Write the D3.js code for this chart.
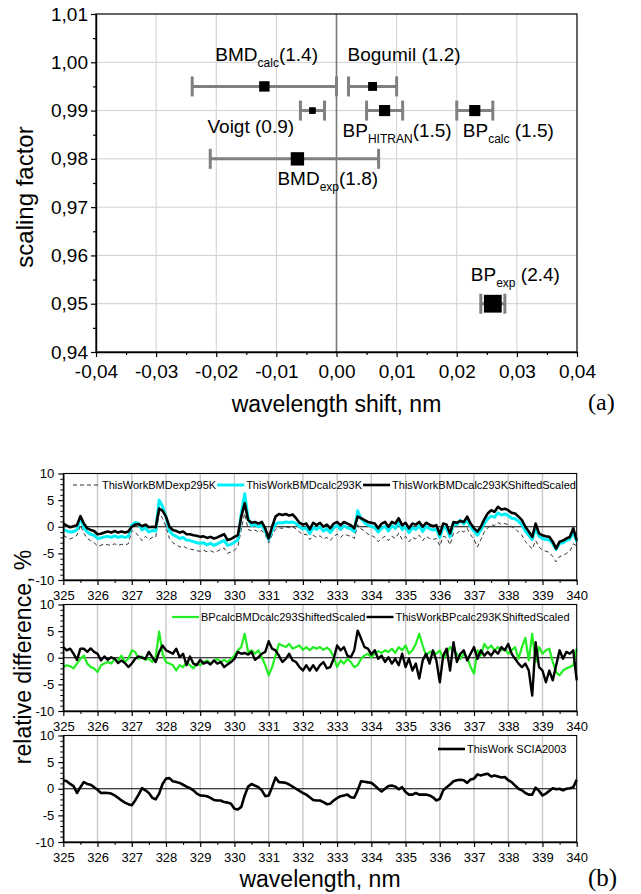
<!DOCTYPE html>
<html><head><meta charset="utf-8">
<script src="https://cdn.jsdelivr.net/npm/d3@7"></script>
<style>body{margin:0;background:#fff}svg{display:block}text{font-family:"Liberation Sans",Arial,sans-serif;fill:#000}</style>
</head><body><svg id="c" width="641" height="894"></svg>
<script>
// ---------- Panel (a) data ----------
const methodBase = ["BMD","Bogumil","Voigt","BP","BP","BMD","BP"];
const methodSub  = ["calc","","","HITRAN","calc","exp","exp"];
const shiftNm    = [-0.012, 0.006, -0.004, 0.008, 0.023, -0.0065, 0.026];
const scaleFac   = [0.995, 0.995, 0.990, 0.990, 0.990, 0.980, 0.950];
const shiftLo    = [-0.024, 0.002, -0.006, 0.005, 0.020, -0.021, 0.024];
const shiftHi    = [0.000, 0.010, -0.002, 0.011, 0.026, 0.007, 0.028];
const chiValue   = [1.4, 1.2, 0.9, 1.5, 1.5, 1.8, 2.4];
const shiftTicks = [-0.04,-0.03,-0.02,-0.01,0,0.01,0.02,0.03,0.04];
const shiftTickLabels = ["-0,04","-0,03","-0,02","-0,01","0,00","0,01","0,02","0,03","0,04"];
const scaleTicks = [0.94,0.95,0.96,0.97,0.98,0.99,1.00,1.01];
const scaleTickLabels = ["0,94","0,95","0,96","0,97","0,98","0,99","1,00","1,01"];

// ---------- Panel (b) data (wavelength 325..340 nm, step 0.1 nm) ----------
const waveStart = 325, waveStep = 0.1;
const waveTicks = [325,326,327,328,329,330,331,332,333,334,335,336,337,338,339,340];
const relTicks = [-10,-5,0,5,10];
const relTickLabels = ["-10","-5","0","5","10"];

const bmdExp295K = [-1.6,-2.0,-2.3,-2.0,-1.6,0.3,-1.2,-2.2,-2.6,-3.0,
-3.6,-3.5,-3.2,-3.4,-3.5,-3.2,-3.5,-3.3,-3.4,-3.2,
-0.7,-1.0,-1.8,-2.6,-1.8,-2.4,-2.0,-2.0,2.6,1.6,
0.0,-2.2,-3.0,-3.4,-3.8,-3.6,-4.0,-4.2,-4.3,-4.5,
-4.6,-4.4,-4.7,-4.5,-4.8,-4.6,-4.2,-4.0,-5.0,-4.7,
-4.4,-3.8,-0.5,2.5,-0.5,-0.8,-0.6,-1.0,-0.7,-1.5,
-3.0,-1.6,-0.5,-0.2,-0.3,0.0,-0.2,0.0,-0.4,-1.0,
-1.5,-1.4,-2.4,-1.6,-2.0,-1.7,-2.3,-2.0,-2.6,-1.8,
-1.4,-2.0,-1.4,-1.6,-1.8,-2.2,0.4,-0.4,-0.8,-1.4,
-1.6,-2.0,-2.8,-2.2,-1.8,-2.6,-1.8,-2.2,-1.2,-2.4,
-1.8,-2.8,-2.0,-2.3,-1.6,-2.6,-1.8,-2.2,-2.4,-2.2,
-3.6,-1.8,-2.0,-3.4,-1.2,-1.3,-0.6,-1.0,-0.3,-1.5,
-2.4,-3.8,-2.4,-1.0,-0.2,0.4,0.2,0.8,0.4,0.6,
0.4,0.0,-0.3,-1.0,-1.6,-2.8,-3.4,-4.2,-2.6,-3.8,
-4.4,-4.6,-4.8,-5.6,-6.6,-5.6,-5.4,-5.0,-4.6,-3.2,
-3.6];
const bmdCalc293K = [-0.5,-0.8,-1.0,-0.9,-0.6,1.8,-0.2,-1.0,-1.4,-1.6,
-2.2,-2.1,-1.9,-1.8,-2.0,-1.7,-2.0,-1.8,-2.0,-1.8,
0.3,0.8,0.6,-0.6,-0.2,-1.0,-0.7,-0.8,5.0,3.8,
1.9,-0.8,-1.5,-1.8,-2.2,-2.0,-2.5,-2.6,-2.8,-3.0,
-3.1,-3.0,-3.4,-3.1,-3.5,-3.2,-2.9,-2.6,-3.5,-3.3,
-2.9,-2.5,2.5,6.2,1.5,0.2,0.4,0.0,0.3,-0.8,
-2.4,-0.7,0.5,0.8,0.7,0.9,0.8,0.9,0.6,0.0,
-0.4,-0.2,-1.3,-0.1,-0.5,0.0,-0.8,-0.4,-1.1,-0.2,
0.2,-0.5,0.2,-0.2,-0.4,-0.9,3.0,1.5,0.8,0.3,
0.1,-0.2,-1.0,-0.3,0.1,-0.8,0.2,-0.3,0.9,-0.5,
0.0,-1.1,-0.2,-0.5,0.2,-0.9,0.1,-0.4,-0.6,-0.4,
-2.0,0.0,-0.3,-1.9,0.5,0.4,1.2,0.5,1.2,0.0,
-0.8,-1.6,-0.6,0.6,1.5,2.0,1.8,2.6,2.2,2.4,
2.1,1.6,1.5,1.0,0.4,-0.8,-1.6,-2.4,-0.3,-1.8,
-2.2,-2.4,-2.5,-3.2,-4.3,-3.1,-3.0,-2.6,-2.3,-1.0,
-2.8];
const bmdCalc293KShiftedScaled = [0.6,0.2,-0.1,0.1,0.3,2.0,0.6,-0.3,-0.6,-0.8,
-1.4,-1.3,-1.1,-0.9,-1.1,-0.8,-1.1,-0.9,-1.1,-0.9,
0.0,0.4,0.5,0.1,0.4,-0.1,0.0,-0.1,3.4,3.0,
1.9,0.0,-0.6,-0.8,-1.1,-0.9,-1.4,-1.4,-1.6,-1.7,
-1.9,-1.8,-2.1,-1.9,-2.2,-2.0,-1.7,-1.4,-2.5,-2.3,
-1.9,-1.6,1.9,4.4,1.25,0.75,0.9,0.6,0.9,-0.3,
-2.2,0.0,1.9,2.4,2.2,2.4,2.1,2.3,1.6,0.75,
0.4,0.6,-0.5,0.75,0.3,0.75,0.0,0.4,-0.3,0.6,
0.9,0.3,0.9,0.6,0.3,-0.3,1.9,1.6,1.25,0.9,
0.75,0.6,-0.3,0.6,0.9,0.0,0.9,0.6,1.6,0.3,
0.75,-0.3,0.6,0.4,0.9,0.0,0.75,0.4,0.1,0.3,
-1.4,0.6,0.4,-1.25,0.9,0.75,1.1,0.9,1.9,0.6,
-0.3,-0.9,0.0,1.4,2.5,3.1,2.8,3.75,3.25,3.4,
3.1,2.6,2.5,1.9,1.25,0.0,-0.9,-1.9,0.6,-1.25,
-1.6,-1.8,-1.9,-2.8,-4.1,-2.8,-2.6,-2.2,-1.9,-0.3,
-2.5];
const bpCalcBmdCalc293SS = [-1.75,-1.4,-1.6,-2.0,-1.1,-0.2,0.4,-1.1,-1.75,-2.0,
-2.7,-1.4,-1.1,-0.8,-1.1,-0.2,-0.5,0.4,-0.8,-0.2,
1.4,1.1,-0.2,0.25,-0.4,-0.2,-0.8,0.1,4.9,0.75,
-0.8,-1.1,-1.4,-2.4,-1.4,-1.75,-0.8,-1.4,-2.0,-1.1,
-1.4,-0.8,-0.5,-1.1,-0.6,-0.2,-0.8,-0.4,-0.8,-0.2,
0.4,1.4,2.0,4.5,1.1,1.4,0.75,1.4,0.1,-1.4,
-3.3,-1.75,0.4,2.6,2.3,2.0,2.6,1.7,2.0,2.3,
1.5,2.0,1.4,2.0,1.7,2.0,1.5,1.9,1.4,0.1,
-1.75,-0.5,-1.1,-0.2,-0.8,-1.75,-1.4,-0.2,0.4,0.75,
0.1,0.75,1.25,0.9,1.4,1.1,1.7,0.9,2.0,1.4,
2.3,0.75,1.4,2.6,4.5,2.3,0.4,1.1,1.1,0.75,
1.4,-0.2,0.75,2.0,1.4,0.75,-0.2,0.75,0.1,-1.75,
-3.0,1.4,0.4,2.6,1.7,2.3,1.4,2.0,1.4,1.7,
0.75,1.4,2.0,-0.2,2.0,3.75,-0.5,4.5,-0.8,2.0,
0.75,1.4,1.7,-0.8,-2.7,-3.3,-2.4,-2.0,-1.75,-1.4,
1.7];
const bpCalc293KShiftedScaled = [2.0,1.4,1.7,0.75,-0.4,1.7,1.7,1.1,1.75,1.1,
0.75,-0.5,0.25,-0.4,0.1,-0.2,-1.0,-0.5,-1.0,-1.75,
-1.1,-0.2,0.25,0.0,-0.2,1.1,0.1,-0.8,1.1,2.3,
1.4,1.1,0.75,1.7,0.1,0.75,-1.4,0.25,-1.1,-1.4,
-0.4,-1.1,-0.8,-1.25,-0.5,-1.1,-0.8,-1.75,-1.25,-0.8,
-0.2,1.1,0.75,0.9,0.6,1.1,-0.4,0.1,0.75,1.1,
3.1,1.7,1.4,0.4,-0.8,-0.2,0.75,-0.5,-0.8,-1.75,
-2.4,-1.4,-2.4,-1.4,-2.4,-1.4,-0.8,-2.0,-1.75,-0.2,
2.3,1.4,2.0,0.4,0.1,1.4,5.1,3.6,2.0,1.7,
0.6,1.4,-0.2,0.4,-0.8,0.1,-1.1,-0.2,-1.4,0.75,
-1.75,-0.2,-2.4,-1.1,-3.9,-0.5,0.75,-1.1,1.4,-0.5,
-4.6,0.4,1.7,-2.4,2.9,-0.8,0.75,1.4,-0.5,0.75,
2.0,-0.2,1.4,0.4,1.1,0.4,1.4,0.75,2.0,1.4,
2.6,0.75,-0.2,-1.1,-1.75,-1.1,-2.4,-7.1,2.9,-1.75,
-2.4,-4.6,-2.4,-4.25,-1.4,1.4,-0.2,1.1,0.75,1.4,
-4.25];
const sciaThisWork2003 = [1.6,1.4,0.9,0.5,-0.8,0.3,1.25,0.9,0.75,0.3,
-0.2,-0.8,-0.75,-0.8,-0.9,-1.25,-1.7,-2.2,-2.6,-2.9,
-3.1,-2.2,-1.1,0.1,-0.3,-0.8,-1.7,-2.0,-0.9,0.9,
1.9,2.0,1.4,1.25,1.1,0.75,0.4,0.1,-0.3,-0.9,
-1.25,-1.3,-1.4,-1.7,-2.1,-2.2,-2.2,-2.5,-2.6,-2.8,
-3.75,-3.9,-3.4,-1.25,0.4,0.9,0.6,0.3,-0.3,-1.4,
-1.25,0.3,2.1,1.25,1.2,1.1,0.8,0.4,0.0,-0.4,
-0.8,-1.1,-1.6,-2.1,-2.2,-2.2,-2.5,-2.9,-2.8,-2.2,
-1.75,-1.4,-1.25,-1.1,-1.6,-1.7,-0.3,1.4,1.3,1.2,
1.1,0.6,0.0,-0.5,0.0,0.5,0.6,0.4,-0.1,0.3,
-0.6,-1.1,-1.1,-0.8,-1.1,-1.1,-1.1,-1.25,-1.6,-2.2,
-1.9,-0.3,0.3,0.8,1.4,1.6,1.7,1.6,1.1,1.75,
1.9,2.7,2.5,2.7,2.8,2.3,2.5,2.3,2.1,2.2,
1.6,1.25,0.6,0.0,-0.3,-0.8,-1.1,-1.1,0.2,-0.4,
-1.25,-0.9,-0.4,0.1,-0.1,0.0,-0.3,0.0,0.1,0.3,
1.7];

// ---------- drawing ----------
const svg = d3.select("#c");
const FONT = '"Liberation Sans",Arial,sans-serif';

function styleAxis(g, size){
  g.attr("font-family", null).attr("font-size", null);
  g.selectAll("text").style("font-family", FONT).style("font-size", size + "px").attr("fill", "#000");
  g.selectAll("line").attr("stroke", "#000").attr("stroke-width", 1.2);
  g.select(".domain").attr("stroke", "#000").attr("stroke-width", 1.4);
}

// ===== Panel (a) =====
const xA = d3.scaleLinear().domain([-0.04, 0.04]).range([96, 577]);
const yA = d3.scaleLinear().domain([0.94, 1.01]).range([352, 14]);
const sizeA = d3.scaleLinear().domain([0, 2.4]).range([0, 17.8]);
const gA = svg.append("g");

gA.selectAll("line.gx").data(shiftTicks.filter(d => d !== 0 && d > -0.04 && d < 0.04)).join("line")
  .attr("x1", d => xA(d)).attr("x2", d => xA(d)).attr("y1", yA(1.01)).attr("y2", yA(0.94))
  .attr("stroke", "#cfcfcf").attr("stroke-width", 1);
gA.selectAll("line.gy").data(scaleTicks.filter(d => d > 0.94 && d < 1.01)).join("line")
  .attr("y1", d => yA(d)).attr("y2", d => yA(d)).attr("x1", xA(-0.04)).attr("x2", xA(0.04))
  .attr("stroke", "#cfcfcf").attr("stroke-width", 1);
gA.append("line").attr("x1", xA(0)).attr("x2", xA(0)).attr("y1", yA(1.01)).attr("y2", yA(0.94))
  .attr("stroke", "#7a7a7a").attr("stroke-width", 1.6);
gA.append("rect").attr("x", xA(-0.04)).attr("y", yA(1.01))
  .attr("width", xA(0.04) - xA(-0.04)).attr("height", yA(0.94) - yA(1.01))
  .attr("fill", "none").attr("stroke", "#000").attr("stroke-width", 1.2);

// axes
gA.append("g").attr("transform", `translate(${xA(-0.04)},0)`)
  .call(d3.axisLeft(yA).tickValues(scaleTicks).tickFormat((d, i) => scaleTickLabels[i]).tickSize(5).tickSizeOuter(0).tickPadding(3))
  .call(g => styleAxis(g, 19));
gA.append("g").attr("transform", `translate(${xA(-0.04)},0)`)
  .call(d3.axisLeft(yA).tickValues(scaleTicks.slice(0, -1).map(d => d + 0.005)).tickFormat("").tickSize(3).tickSizeOuter(0))
  .call(g => { g.select(".domain").remove(); g.selectAll("line").attr("stroke", "#000").attr("stroke-width", 1.2); });
gA.append("g").attr("transform", `translate(0,${yA(0.94)})`)
  .call(d3.axisBottom(xA).tickValues(shiftTicks).tickFormat((d, i) => shiftTickLabels[i]).tickSize(5).tickSizeOuter(0).tickPadding(8))
  .call(g => styleAxis(g, 19));
gA.append("g").attr("transform", `translate(0,${yA(0.94)})`)
  .call(d3.axisBottom(xA).tickValues(shiftTicks.slice(0, -1).map(d => d + 0.005)).tickFormat("").tickSize(3).tickSizeOuter(0))
  .call(g => { g.select(".domain").remove(); g.selectAll("line").attr("stroke", "#000").attr("stroke-width", 1.2); });

// error bars + markers
const idx = d3.range(methodBase.length);
const eb = gA.append("g").attr("stroke", "#808080").attr("stroke-width", 3);
eb.selectAll("line.h").data(idx).join("line")
  .attr("x1", i => xA(shiftLo[i])).attr("x2", i => xA(shiftHi[i]))
  .attr("y1", i => yA(scaleFac[i])).attr("y2", i => yA(scaleFac[i]));
eb.selectAll("line.l").data(idx).join("line")
  .attr("x1", i => xA(shiftLo[i])).attr("x2", i => xA(shiftLo[i]))
  .attr("y1", i => yA(scaleFac[i]) - 10).attr("y2", i => yA(scaleFac[i]) + 10);
eb.selectAll("line.r").data(idx).join("line")
  .attr("x1", i => xA(shiftHi[i])).attr("x2", i => xA(shiftHi[i]))
  .attr("y1", i => yA(scaleFac[i]) - 10).attr("y2", i => yA(scaleFac[i]) + 10);
gA.selectAll("rect.m").data(idx).join("rect")
  .attr("x", i => xA(shiftNm[i]) - sizeA(chiValue[i]) / 2)
  .attr("y", i => yA(scaleFac[i]) - sizeA(chiValue[i]) / 2)
  .attr("width", i => sizeA(chiValue[i])).attr("height", i => sizeA(chiValue[i]))
  .attr("fill", "#000");

// point labels (offsets from each point, in px)
const labelPlace = [
  {dx: -49, dy: -25, gap: ""},
  {dx: -25, dy: -25, gap: " "},
  {dx: -105, dy: 22, gap: " "},
  {dx: -42, dy: 26, gap: ""},
  {dx: -12, dy: 26, gap: " "},
  {dx: -20, dy: 26, gap: ""},
  {dx: -22, dy: -23, gap: " "}
];
idx.forEach(i => {
  const p = labelPlace[i];
  const t = gA.append("text").attr("x", xA(shiftNm[i]) + p.dx).attr("y", yA(scaleFac[i]) + p.dy)
    .style("font-size", "19px");
  t.append("tspan").text(methodBase[i]);
  if (methodSub[i]) {
    t.append("tspan").attr("dy", 6).style("font-size", "12px").text(methodSub[i]);
    t.append("tspan").attr("dy", -6).text(p.gap + "(" + chiValue[i].toFixed(1) + ")");
  } else {
    t.append("tspan").text(p.gap + "(" + chiValue[i].toFixed(1) + ")");
  }
});

svg.append("text").attr("transform", "translate(33,197) rotate(-90)").attr("text-anchor", "middle")
  .style("font-size", "24px").text("scaling factor");
svg.append("text").attr("x", xA(0)).attr("y", 412).attr("text-anchor", "middle")
  .style("font-size", "23px").text("wavelength shift, nm");
svg.append("text").attr("x", 588).attr("y", 410).style("font-family", '"Liberation Serif","Times New Roman",serif')
  .style("font-size", "24px").text("(a)");

// ===== Panel (b) =====
const xB = d3.scaleLinear().domain([325, 340]).range([63.3, 576.7]);
const panelTops = [473.5, 604.5, 735.5];
const panelH = 106.5;
const panels = [
  {series: [
    {name: "ThisWorkBMDexp295K", values: bmdExp295K, color: "#333", width: 1, dash: "4,3"},
    {name: "ThisWorkBMDcalc293K", values: bmdCalc293K, color: "#00f0f8", width: 3, dash: null},
    {name: "ThisWorkBMDcalc293KShiftedScaled", values: bmdCalc293KShiftedScaled, color: "#000", width: 2.6, dash: null}
  ], legendX: 73, legendY: 489},
  {series: [
    {name: "BPcalcBMDcalc293ShiftedScaled", values: bpCalcBmdCalc293SS, color: "#22ee22", width: 2.2, dash: null},
    {name: "ThisWorkBPcalc293KShiftedScaled", values: bpCalc293KShiftedScaled, color: "#000", width: 2.4, dash: null}
  ], legendX: 172, legendY: 621},
  {series: [
    {name: "ThisWork SCIA2003", values: sciaThisWork2003, color: "#000", width: 2.6, dash: null}
  ], legendX: 438, legendY: 753}
];

panels.forEach((pn, k) => {
  const top = panelTops[k], bot = top + panelH;
  const yB = d3.scaleLinear().domain([-10, 10]).range([bot, top]);
  const g = svg.append("g");
  g.selectAll("line.gx").data(waveTicks.slice(1, -1)).join("line")
    .attr("x1", d => xB(d)).attr("x2", d => xB(d)).attr("y1", top).attr("y2", bot)
    .attr("stroke", "#c8c8c8").attr("stroke-width", 1.4);
  g.append("line").attr("x1", xB(325)).attr("x2", xB(340)).attr("y1", yB(0)).attr("y2", yB(0))
    .attr("stroke", "#000").attr("stroke-width", 1.1);
  const line = d3.line().x((d, i) => xB(waveStart + i * waveStep)).y(d => yB(d));
  pn.series.forEach(s => {
    g.append("path").datum(s.values).attr("d", line).attr("fill", "none")
      .attr("stroke", s.color).attr("stroke-width", s.width)
      .attr("stroke-dasharray", s.dash).attr("stroke-linejoin", "round");
  });
  g.append("rect").attr("x", xB(325)).attr("y", top).attr("width", xB(340) - xB(325)).attr("height", panelH)
    .attr("fill", "none").attr("stroke", "#000").attr("stroke-width", 1.1);
  g.append("g").attr("transform", `translate(${xB(325)},0)`)
    .call(d3.axisLeft(yB).tickValues(relTicks).tickFormat((d, i) => relTickLabels[i]).tickSize(5).tickSizeOuter(0).tickPadding(4))
    .call(a => styleAxis(a, 13));
  g.append("g").attr("transform", `translate(${xB(325)},0)`)
    .call(d3.axisLeft(yB).tickValues(d3.range(-9, 10).filter(v => v % 5 !== 0)).tickFormat("").tickSize(3).tickSizeOuter(0))
    .call(a => { a.select(".domain").remove(); a.selectAll("line").attr("stroke", "#000").attr("stroke-width", 1); });
  g.append("g").attr("transform", `translate(0,${bot})`)
    .call(d3.axisBottom(xB).tickValues(waveTicks).tickFormat(d => String(d)).tickSize(5).tickSizeOuter(0).tickPadding(6))
    .call(a => styleAxis(a, 13));
  g.append("g").attr("transform", `translate(0,${bot})`)
    .call(d3.axisBottom(xB).tickValues(waveTicks.slice(0, -1).map(d => d + 0.5)).tickFormat("").tickSize(3).tickSizeOuter(0))
    .call(a => { a.select(".domain").remove(); a.selectAll("line").attr("stroke", "#000").attr("stroke-width", 1); });

  // legend
  let lx = pn.legendX;
  pn.series.forEach(s => {
    g.append("line").attr("x1", lx).attr("x2", lx + 27).attr("y1", pn.legendY - 4).attr("y2", pn.legendY - 4)
      .attr("stroke", s.color).attr("stroke-width", s.width).attr("stroke-dasharray", s.dash);
    const t = g.append("text").attr("x", lx + 29).attr("y", pn.legendY).style("font-size", "11px").text(s.name);
    lx = lx + 29 + t.node().getComputedTextLength() + 1;
  });
});

svg.append("text").attr("transform", "translate(31,657) rotate(-90)").attr("text-anchor", "middle")
  .style("font-size", "23px").text("relative difference, %");
svg.append("text").attr("x", xB(332.5)).attr("y", 887).attr("text-anchor", "middle")
  .style("font-size", "23px").text("wavelength, nm");
svg.append("text").attr("x", 588).attr("y", 886).style("font-family", '"Liberation Serif","Times New Roman",serif')
  .style("font-size", "25px").text("(b)");
</script></body></html>
